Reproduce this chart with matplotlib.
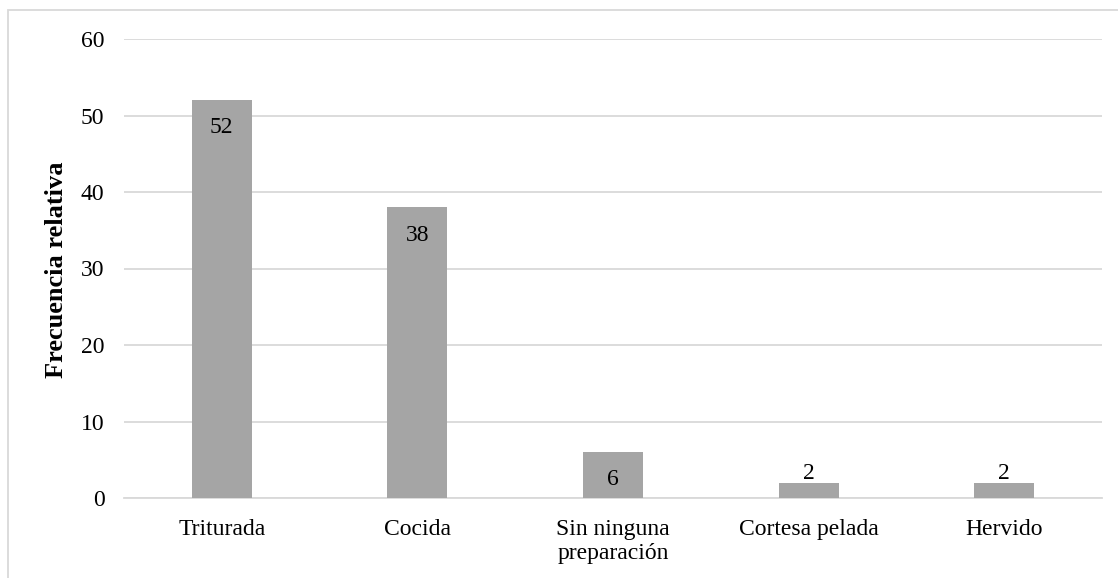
import matplotlib
matplotlib.use("Agg")
import matplotlib.pyplot as plt
from matplotlib.patches import Rectangle

categories = ["Triturada", "Cocida", "Sin ninguna\npreparación", "Cortesa pelada", "Hervido"]
values = [52, 38, 6, 2, 2]
y_ticks = [0, 10, 20, 30, 40, 50, 60]

plt.rcParams["font.family"] = ["Liberation Serif", "DejaVu Serif"]

W, H = 1118, 578
FS = 17
fig = plt.figure(figsize=(W / 100, H / 100), dpi=100)

# outer chart frame
fig.patches.append(Rectangle((8 / W, -0.1), 1.2, 1 - 10 / H + 0.1,
                             transform=fig.transFigure, fill=False,
                             edgecolor="#d9d9d9", linewidth=1.3, zorder=0))

ax = fig.add_axes([124 / W, 1 - 498 / H, (1102 - 124) / W, (498 - 39) / H])

x = list(range(len(categories)))
ax.bar(x, values, width=0.307, color="#a5a5a5", zorder=3)

for xi, v in zip(x, values):
    if v >= 5:
        ax.annotate(str(v), (xi, v), xytext=(0, -20), textcoords="offset points",
                    ha="center", va="center", fontsize=FS, color="#000000", zorder=4)
    else:
        ax.annotate(str(v), (xi, v), xytext=(0, -1), textcoords="offset points",
                    ha="center", va="bottom", fontsize=FS, color="#000000", zorder=4)

ax.set_xlim(-0.5, len(categories) - 0.5)
ax.set_ylim(0, 60)
ax.set_yticks(y_ticks)
ax.set_xticks(x)
ax.set_xticklabels(categories, fontsize=FS, linespacing=1.2)
ax.tick_params(axis="y", length=0, pad=14, labelsize=FS)
ax.tick_params(axis="x", length=0, pad=15)

ax.yaxis.grid(True, color="#d9d9d9", linewidth=1.3, zorder=0)
ax.set_axisbelow(True)
for s in ["top", "right", "left"]:
    ax.spines[s].set_visible(False)
ax.spines["bottom"].set_color("#d9d9d9")
ax.spines["bottom"].set_linewidth(1.3)

fig.text(57 / W, 1 - 270 / H, "Frecuencia relativa", rotation=90, ha="center",
         va="center", fontsize=19, fontweight="bold")

fig.savefig("out.png", dpi=100)
